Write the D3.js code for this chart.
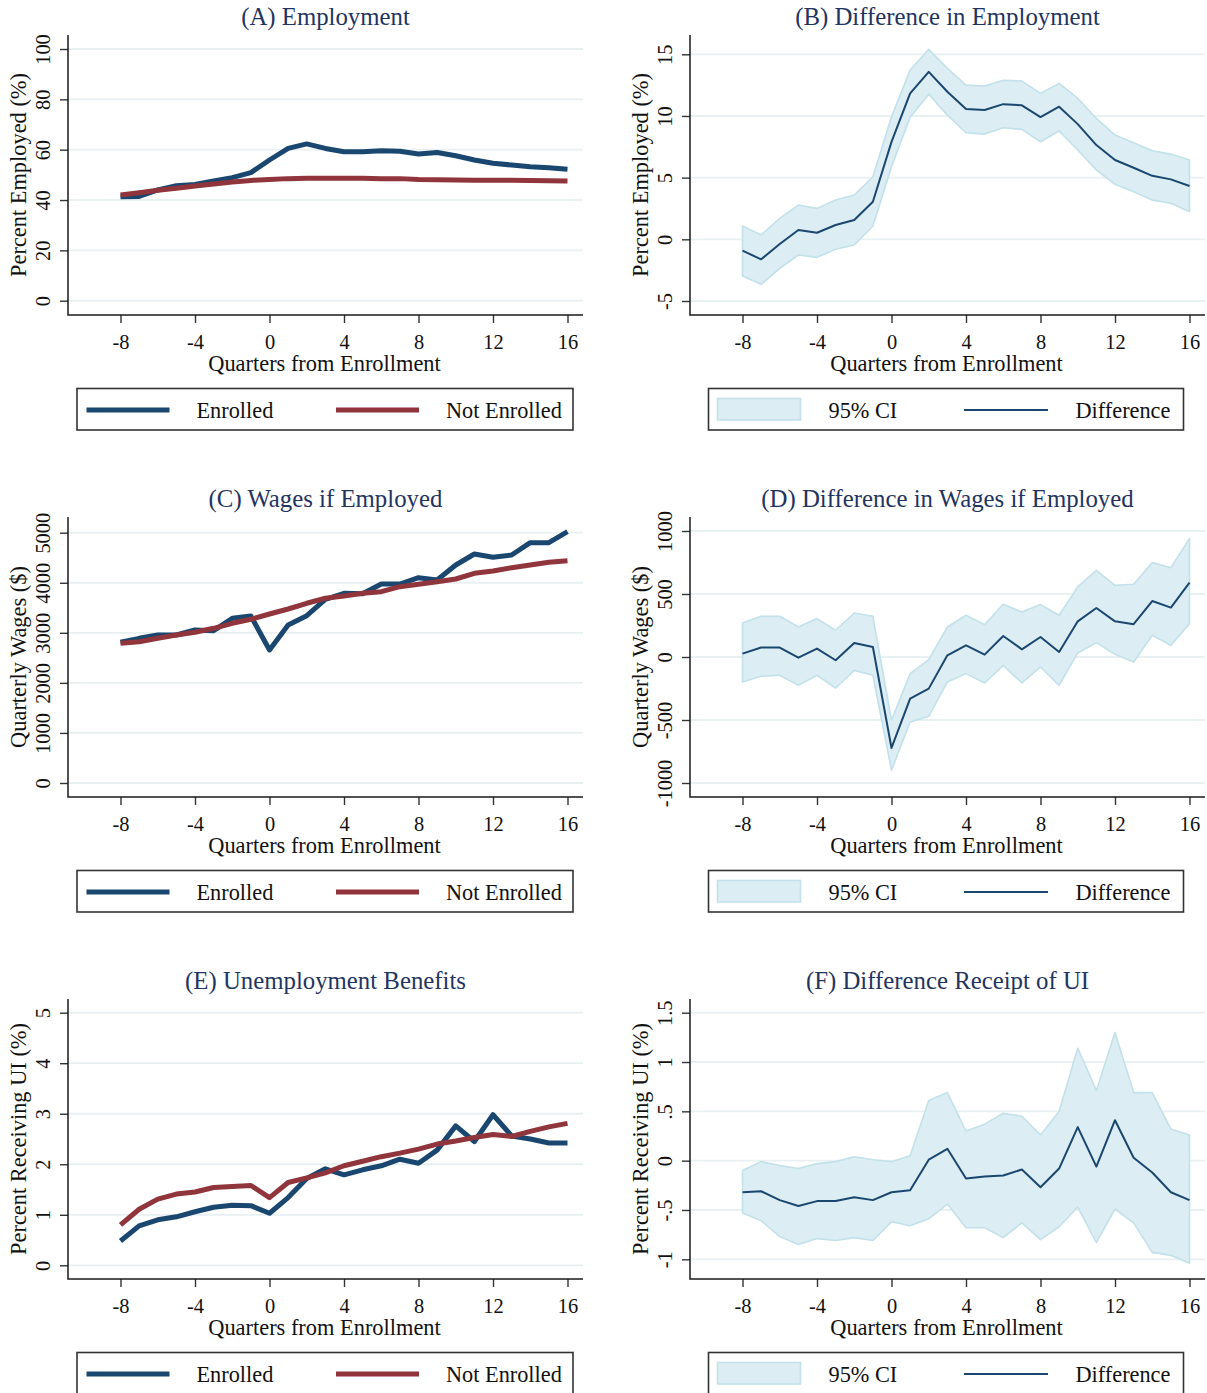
<!DOCTYPE html>
<html>
<head>
<meta charset="utf-8">
<script src="https://cdn.jsdelivr.net/npm/d3@7"></script>
<style>
  html, body { margin: 0; padding: 0; background: #fff; }
  svg { display: block; }
  text { font-family: "Liberation Serif", "Times New Roman", serif; }
</style>
</head>
<body>
<svg id="chart" width="1207" height="1393"></svg>
<script>
// Quarters relative to enrollment
const quarters = [-8,-7,-6,-5,-4,-3,-2,-1,0,1,2,3,4,5,6,7,8,9,10,11,12,13,14,15,16];
const quarterTicks = [-8,-4,0,4,8,12,16];
const quarterLabels = ["-8","-4","0","4","8","12","16"];

// (A) Employment rate, %
const employmentEnrolled    = [41.3,41.4,44.0,45.7,46.2,47.6,48.9,50.9,55.9,60.5,62.3,60.5,59.2,59.2,59.6,59.4,58.3,58.9,57.6,55.9,54.6,53.9,53.2,52.8,52.2];
const employmentNotEnrolled = [42.0,42.9,43.9,44.7,45.6,46.4,47.2,47.8,48.2,48.5,48.6,48.6,48.6,48.6,48.5,48.5,48.2,48.1,48.0,47.9,47.9,47.9,47.8,47.7,47.6];
const employmentTicks  = [0,20,40,60,80,100];
const employmentLabels = ["0","20","40","60","80","100"];

// (B) Difference in employment, percentage points
const employmentDiff  = [-0.92,-1.62,-0.38,0.75,0.53,1.16,1.56,3.05,7.90,11.83,13.58,11.96,10.56,10.48,10.96,10.86,9.91,10.75,9.34,7.64,6.43,5.80,5.15,4.86,4.32];
const employmentUpper = [1.08,0.35,1.70,2.78,2.51,3.18,3.59,5.07,9.94,13.72,15.40,13.86,12.50,12.42,12.90,12.83,11.83,12.64,11.43,9.80,8.45,7.83,7.18,6.91,6.43];
const employmentLower = [-2.97,-3.65,-2.35,-1.27,-1.46,-0.81,-0.46,1.08,5.88,9.89,11.77,10.07,8.64,8.53,9.04,8.91,7.91,8.78,7.24,5.62,4.46,3.86,3.18,2.92,2.24];
const employmentDiffTicks  = [-5,0,5,10,15];
const employmentDiffLabels = ["-5","0","5","10","15"];

// (C) Quarterly wages if employed, $
const wagesEnrolled    = [2811,2890,2956,2956,3056,3043,3290,3336,2657,3156,3343,3670,3790,3780,3975,3975,4101,4055,4355,4575,4509,4555,4800,4800,5020];
const wagesNotEnrolled = [2790,2823,2890,2956,3010,3090,3190,3270,3376,3476,3590,3690,3735,3790,3822,3922,3969,4022,4075,4189,4235,4301,4355,4409,4441];
const wagesTicks  = [0,1000,2000,3000,4000,5000];
const wagesLabels = ["0","1000","2000","3000","4000","5000"];

// (D) Difference in quarterly wages, $
const wagesDiff  = [27,75,75,-5,67,-26,111,79,-722,-330,-251,13,93,19,167,61,159,40,283,389,283,260,444,392,590];
const wagesUpper = [270,323,323,238,305,212,349,323,-502,-132,-21,238,331,257,418,357,416,331,556,688,569,577,749,709,940];
const wagesLower = [-198,-153,-145,-225,-145,-246,-106,-145,-899,-516,-471,-198,-132,-206,-66,-206,-79,-225,32,114,21,-40,172,93,265];
const wagesDiffTicks  = [-1000,-500,0,500,1000];
const wagesDiffLabels = ["-1000","-500","0","500","1000"];

// (E) Share receiving unemployment insurance, %
const uiEnrolled    = [0.48,0.78,0.90,0.96,1.06,1.15,1.19,1.18,1.03,1.34,1.72,1.91,1.79,1.89,1.97,2.10,2.02,2.28,2.76,2.45,2.98,2.56,2.50,2.42,2.42];
const uiNotEnrolled = [0.80,1.11,1.31,1.41,1.45,1.54,1.56,1.58,1.34,1.64,1.73,1.83,1.97,2.06,2.15,2.22,2.30,2.40,2.46,2.53,2.59,2.55,2.65,2.74,2.81];
const uiTicks  = [0,1,2,3,4,5];
const uiLabels = ["0","1","2","3","4","5"];

// (F) Difference in UI receipt, percentage points
const uiDiff  = [-0.32,-0.31,-0.40,-0.46,-0.41,-0.41,-0.37,-0.40,-0.32,-0.30,0.01,0.12,-0.18,-0.16,-0.15,-0.09,-0.27,-0.08,0.34,-0.06,0.41,0.03,-0.12,-0.32,-0.40];
const uiUpper = [-0.10,-0.01,-0.05,-0.08,-0.03,-0.01,0.04,0.01,-0.01,0.05,0.61,0.69,0.30,0.37,0.48,0.45,0.26,0.50,1.14,0.71,1.30,0.69,0.69,0.32,0.26];
const uiLower = [-0.53,-0.61,-0.77,-0.85,-0.79,-0.81,-0.78,-0.81,-0.62,-0.66,-0.59,-0.44,-0.68,-0.68,-0.78,-0.63,-0.80,-0.67,-0.47,-0.83,-0.49,-0.63,-0.93,-0.96,-1.04];
const uiDiffTicks  = [-1,-0.5,0,0.5,1,1.5];
const uiDiffLabels = ["-1","-.5","0",".5","1","1.5"];

const groupNames = ["Enrolled", "Not Enrolled"];
const ciNames = ["95% CI", "Difference"];
const xTitle = "Quarters from Enrollment";

const panels = [
  { col: 0, row: 0, kind: "groups", title: "(A) Employment", yTitle: "Percent Employed (%)",
    ticks: employmentTicks, labels: employmentLabels, series: [employmentEnrolled, employmentNotEnrolled] },
  { col: 1, row: 0, kind: "ci", title: "(B) Difference in Employment", yTitle: "Percent Employed (%)",
    ticks: employmentDiffTicks, labels: employmentDiffLabels, diff: employmentDiff, lo: employmentLower, hi: employmentUpper },
  { col: 0, row: 1, kind: "groups", title: "(C) Wages if Employed", yTitle: "Quarterly Wages ($)",
    ticks: wagesTicks, labels: wagesLabels, series: [wagesEnrolled, wagesNotEnrolled] },
  { col: 1, row: 1, kind: "ci", title: "(D) Difference in Wages if Employed", yTitle: "Quarterly Wages ($)",
    ticks: wagesDiffTicks, labels: wagesDiffLabels, diff: wagesDiff, lo: wagesLower, hi: wagesUpper },
  { col: 0, row: 2, kind: "groups", title: "(E) Unemployment Benefits", yTitle: "Percent Receiving UI (%)",
    ticks: uiTicks, labels: uiLabels, series: [uiEnrolled, uiNotEnrolled] },
  { col: 1, row: 2, kind: "ci", title: "(F) Difference Receipt of UI", yTitle: "Percent Receiving UI (%)",
    ticks: uiDiffTicks, labels: uiDiffLabels, diff: uiDiff, lo: uiLower, hi: uiUpper }
];

// ---- layout (pixels, relative to each panel cell) ----
const cellW = 622, cellH = 482;
const plot = { left: 68, right: 583, top: 35, bottom: 315 };
// pixel rows of the lowest and highest tick in each panel
const tickSpan = [[300.7, 49], [301, 54.3], [301, 50.7], [301, 49], [301.3, 48.7], [295.3, 48.7]];
const colors = {
  groups: ["#1a476f", "#90353b"],
  ciFill: "#dcedf3", ciEdge: "#c2e1ea", diff: "#1a476f",
  title: "#1f3461", grid: "#e8f0f2", axis: "#1a1a1a"
};
const font = { title: 24.8, axisTitle: 22.4, tick: 20.4, legend: 22.3 };

const svg = d3.select("#chart");
svg.append("rect").attr("width", 1207).attr("height", 1393).attr("fill", "#fff");

const x = d3.scaleLinear().domain([-8, 16]).range([120.5, 567.5]);

panels.forEach((p, pi) => {
  const g = svg.append("g").attr("transform", `translate(${p.col * cellW},${p.row * cellH})`);
  const y = d3.scaleLinear()
    .domain([p.ticks[0], p.ticks[p.ticks.length - 1]])
    .range(tickSpan[pi]);

  // horizontal grid
  g.append("g").selectAll("line").data(p.ticks).join("line")
    .attr("x1", plot.left).attr("x2", plot.right)
    .attr("y1", d => y(d)).attr("y2", d => y(d))
    .attr("stroke", colors.grid).attr("stroke-width", 1.8);

  const line = d3.line().x((d, i) => x(quarters[i])).y(d => y(d));
  if (p.kind === "ci") {
    const area = d3.area()
      .x((d, i) => x(quarters[i]))
      .y0((d, i) => y(p.lo[i]))
      .y1((d, i) => y(p.hi[i]));
    g.append("path").datum(p.diff).attr("d", area)
      .attr("fill", colors.ciFill).attr("stroke", colors.ciEdge)
      .attr("stroke-width", 1.6).attr("stroke-linejoin", "round");
    g.append("path").datum(p.diff).attr("d", line)
      .attr("fill", "none").attr("stroke", colors.diff).attr("stroke-width", 2)
      .attr("stroke-linejoin", "round");
  } else {
    p.series.forEach((s, si) => {
      g.append("path").datum(s).attr("d", line)
        .attr("fill", "none").attr("stroke", colors.groups[si]).attr("stroke-width", 5)
        .attr("stroke-linejoin", "round");
    });
  }

  // y axis
  const yAxis = g.append("g").attr("transform", `translate(${plot.left},0)`)
    .call(d3.axisLeft(y).tickValues(p.ticks).tickFormat((d, i) => p.labels[i]).tickSize(8).tickSizeOuter(0));
  yAxis.select(".domain").remove();
  yAxis.attr("font-family", null).attr("font-size", null);
  yAxis.selectAll(".tick line").attr("stroke", "#333").attr("stroke-width", 1.4);
  yAxis.selectAll(".tick text")
    .attr("x", null).attr("dy", null)
    .attr("transform", "translate(-18,0) rotate(-90)")
    .attr("text-anchor", "middle")
    .attr("font-size", font.tick).attr("fill", "#111");

  // x axis
  const xAxis = g.append("g").attr("transform", `translate(0,${plot.bottom})`)
    .call(d3.axisBottom(x).tickValues(quarterTicks).tickFormat((d, i) => quarterLabels[i]).tickSize(8).tickSizeOuter(0));
  xAxis.select(".domain").remove();
  xAxis.attr("font-family", null).attr("font-size", null);
  xAxis.selectAll(".tick line").attr("stroke", "#333").attr("stroke-width", 1.4);
  xAxis.selectAll(".tick text")
    .attr("y", 34).attr("dy", null)
    .attr("font-size", font.tick).attr("fill", "#111");

  // axis lines
  g.append("path")
    .attr("d", `M${plot.left},${plot.top}V${plot.bottom}H${plot.right}`)
    .attr("fill", "none").attr("stroke", colors.axis).attr("stroke-width", 1.5);

  // titles
  const cx = (plot.left + plot.right) / 2;
  g.append("text").attr("x", cx).attr("y", 25).attr("text-anchor", "middle")
    .attr("font-size", font.title).attr("fill", colors.title).text(p.title);
  g.append("text").attr("x", cx - 1).attr("y", 371).attr("text-anchor", "middle")
    .attr("font-size", font.axisTitle).attr("fill", "#111").text(xTitle);
  g.append("text")
    .attr("transform", `translate(26,${(plot.top + plot.bottom) / 2}) rotate(-90)`)
    .attr("text-anchor", "middle")
    .attr("font-size", font.axisTitle).attr("fill", "#111").text(p.yTitle);

  // legend
  const lg = g.append("g");
  if (p.kind === "groups") {
    lg.append("rect").attr("x", 77).attr("y", 388.5).attr("width", 496).attr("height", 41.5)
      .attr("fill", "#fff").attr("stroke", "#333").attr("stroke-width", 1.6);
    const keyX = [86.5, 336];
    const textX = [196.5, 446];
    groupNames.forEach((name, i) => {
      lg.append("line").attr("x1", keyX[i]).attr("x2", keyX[i] + 83)
        .attr("y1", 410).attr("y2", 410)
        .attr("stroke", colors.groups[i]).attr("stroke-width", 5);
      lg.append("text").attr("x", textX[i]).attr("y", 418)
        .attr("font-size", font.legend).attr("fill", "#111").text(name);
    });
  } else {
    lg.append("rect").attr("x", 86.5).attr("y", 388.5).attr("width", 475).attr("height", 41.5)
      .attr("fill", "#fff").attr("stroke", "#333").attr("stroke-width", 1.6);
    lg.append("rect").attr("x", 95.5).attr("y", 398.5).attr("width", 83).attr("height", 21.5)
      .attr("fill", colors.ciFill).attr("stroke", colors.ciEdge).attr("stroke-width", 1.6);
    lg.append("text").attr("x", 206.5).attr("y", 418)
      .attr("font-size", font.legend).attr("fill", "#111").text(ciNames[0]);
    lg.append("line").attr("x1", 342).attr("x2", 426).attr("y1", 410).attr("y2", 410)
      .attr("stroke", colors.diff).attr("stroke-width", 2);
    lg.append("text").attr("x", 453.5).attr("y", 418)
      .attr("font-size", font.legend).attr("fill", "#111").text(ciNames[1]);
  }
});
</script>
</body>
</html>
